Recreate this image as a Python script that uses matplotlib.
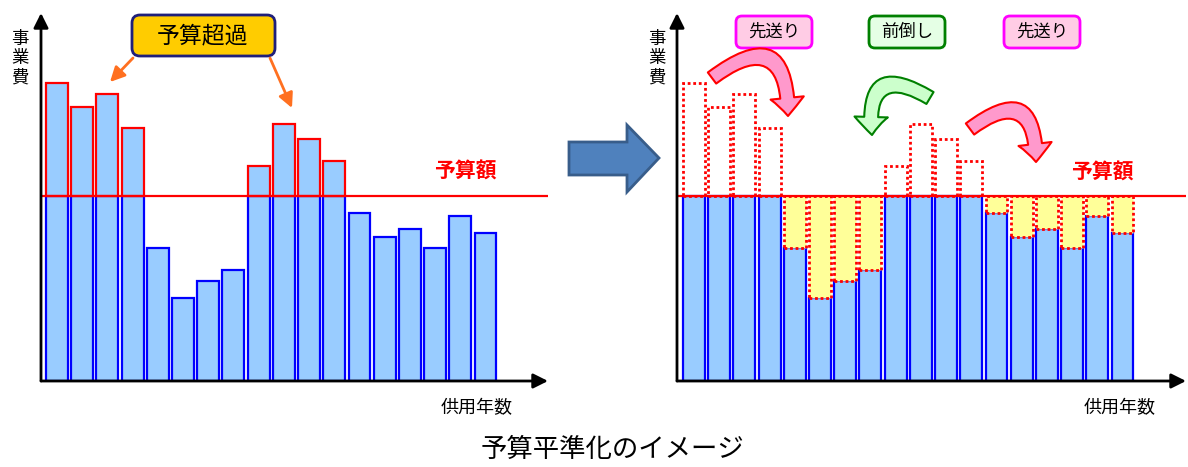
import numpy as np
import matplotlib
matplotlib.use('Agg')
import matplotlib.pyplot as plt
from matplotlib.patches import FancyBboxPatch, FancyArrowPatch, Polygon

plt.rcParams['font.family'] = ['Noto Sans CJK JP', 'DejaVu Sans']

# 年度ごとの事業費（予算額 = 100）
years = np.arange(1, 19)
cost = [161, 148, 155, 137, 72, 45, 54, 60, 116, 139, 131, 119, 91, 78, 82, 72, 89, 80]
budget = 100

y_label = '事業費'
x_label = '供用年数'
budget_label = '予算額'
over_label = '予算超過'
move_labels = ['先送り', '前倒し', '先送り']
caption = '予算平準化のイメージ'

cost = np.array(cost, dtype=float)
capped = np.minimum(cost, budget)
over = cost > budget
under = cost < budget
x = np.arange(len(years))
W = 0.87

BLUE_FACE = '#99CCFF'
BLUE_EDGE = '#0000FF'
RED = '#FF0000'

fig = plt.figure(figsize=(11.88, 4.67), dpi=100)


def setup_axes(ax, xlim):
    ax.set_xlim(*xlim)
    ax.set_ylim(0, 198.9)
    for s in ax.spines.values():
        s.set_visible(False)
    ax.set_xticks([])
    ax.set_yticks([])
    ax.patch.set_alpha(0)
    ax.annotate('', xy=(1, 0), xytext=(0, 0), xycoords='axes fraction',
                arrowprops=dict(arrowstyle='-|>', lw=2, color='k', mutation_scale=22,
                                shrinkA=0, shrinkB=0), zorder=10)
    ax.annotate('', xy=(0, 1), xytext=(0, 0), xycoords='axes fraction',
                arrowprops=dict(arrowstyle='-|>', lw=2, color='k', mutation_scale=22,
                                shrinkA=0, shrinkB=0), zorder=10)
    ax.axhline(budget, color=RED, lw=1.6, zorder=6)


# 左：平準化前
ax1 = fig.add_axes([41 / 1188, 86 / 467, 507 / 1188, 368 / 467])
setup_axes(ax1, (-0.635, 19.48))
ax1.bar(x, capped, W, color=BLUE_FACE, edgecolor=BLUE_EDGE, lw=1.6, zorder=3)
ax1.bar(x[over], cost[over] - budget, W, bottom=budget, color=BLUE_FACE,
        edgecolor=RED, lw=1.6, zorder=4)

# 右：平準化後
ax2 = fig.add_axes([677 / 1188, 86 / 467, 509 / 1188, 368 / 467])
setup_axes(ax2, (-0.675, 19.52))
ax2.bar(x, capped, W, color=BLUE_FACE, edgecolor=BLUE_EDGE, lw=1.6, zorder=3)
ax2.bar(x[over], cost[over] - budget, W, bottom=budget, color='none',
        edgecolor=RED, lw=2, ls=(0, (1, 1)), zorder=4)
ax2.bar(x[under], budget - cost[under], W, bottom=cost[under], color='#FFFF99',
        edgecolor=RED, lw=2, ls=(0, (1, 1)), zorder=4)

# 注記用のオーバーレイ（ピクセル座標）
ov = fig.add_axes([0, 0, 1, 1], zorder=20)
ov.set_xlim(0, 1188)
ov.set_ylim(467, 0)
ov.axis('off')

for x0 in (20, 657):
    ov.text(x0, 58, '\n'.join(y_label), ha='center', va='center', fontsize=12.5,
            linespacing=1.1)
ov.text(477, 408, x_label, ha='center', va='center', fontsize=13)
ov.text(1120, 408, x_label, ha='center', va='center', fontsize=13)
ov.text(465, 171, budget_label, ha='center', va='center', fontsize=15,
        color=RED, fontweight='bold')
ov.text(1102, 172, budget_label, ha='center', va='center', fontsize=15,
        color=RED, fontweight='bold')
ov.text(612, 449, caption, ha='center', va='center', fontsize=19)

# 予算超過の吹き出し
ov.add_patch(FancyBboxPatch((132, 15), 143, 41, boxstyle='round,pad=0,rounding_size=8',
                            fc='#FFCC00', ec='#1F1F7A', lw=2))
ov.text(203, 36, over_label, ha='center', va='center', fontsize=16.5)
for start, end in [((133, 58), (110, 82)), ((270, 58), (292, 108))]:
    ov.add_patch(FancyArrowPatch(start, end, arrowstyle='-|>', mutation_scale=22,
                                 color='#FF7020', lw=2, shrinkA=0, shrinkB=0))

# 中央の矢印
ov.add_patch(Polygon([(569, 142), (627, 142), (627, 125), (659, 158), (627, 192),
                      (627, 175), (569, 175)], closed=True, fc='#4F81BD',
                     ec='#385D8A', lw=2))

# 先送り・前倒しのラベル
boxes = [(736, 16, '#FFCCE5', '#FF00FF'), (869, 16, '#E5FFE5', '#008000'),
         (1004, 16, '#FFCCE5', '#FF00FF')]
for (bx, by, fc, ec), lab in zip(boxes, move_labels):
    ov.add_patch(FancyBboxPatch((bx, by), 76, 32, boxstyle='round,pad=0,rounding_size=6',
                                fc=fc, ec=ec, lw=2))
    ov.text(bx + 38, by + 16, lab, ha='center', va='center', fontsize=12.5)

# 曲がり矢印
curves = [((712, 78), (788, 116), -1.0, '#FF99CC', RED),
          ((930, 98), (872, 135), 1.0, '#CCFFCC', '#008000'),
          ((970, 129), (1036, 162), -1.0, '#FF99CC', RED)]
for start, end, rad, fc, ec in curves:
    ov.add_patch(FancyArrowPatch(start, end, connectionstyle=f'arc3,rad={rad}',
                                 arrowstyle='simple,head_length=13,head_width=24,tail_width=10',
                                 mutation_scale=1, fc=fc, ec=ec, lw=1.5,
                                 shrinkA=0, shrinkB=0))

fig.savefig('out.png', dpi=100)
